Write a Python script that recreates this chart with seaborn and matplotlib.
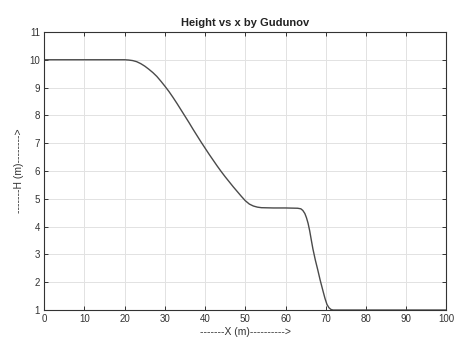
import matplotlib
matplotlib.use("Agg")
import matplotlib.pyplot as plt
import seaborn as sns
import pandas as pd

# Water depth profile along the channel (Godunov scheme result)
x_m = [0, 5, 10, 15, 20, 21, 22, 23, 24, 25, 26, 27, 28, 29, 30, 31, 32, 33,
       34, 35, 36, 37, 38, 39, 40, 41, 42, 43, 44, 45, 46, 47, 48, 49, 50,
       51, 52, 53, 54, 57, 60, 63, 63.8, 64.3, 64.8, 65.2, 65.6, 66.0, 66.4,
       66.8, 67.4, 68.0, 68.6, 69.3, 69.8, 70.3, 70.8, 71.3, 71.8, 73, 80,
       90, 100]
height_m = [10, 10, 10, 10, 10, 9.99, 9.97, 9.93, 9.86, 9.77, 9.66, 9.54,
            9.40, 9.23, 9.05, 8.86, 8.65, 8.43, 8.20, 7.97, 7.74, 7.50, 7.27,
            7.04, 6.82, 6.60, 6.39, 6.18, 5.98, 5.79, 5.61, 5.43, 5.26, 5.09,
            4.93, 4.81, 4.74, 4.70, 4.68, 4.67, 4.67, 4.66, 4.64, 4.58, 4.47,
            4.32, 4.12, 3.85, 3.52, 3.2, 2.8, 2.45, 2.08, 1.69, 1.42, 1.2,
            1.08, 1.02, 1.0, 1.0, 1.0, 1.0, 1.0]

x_ticks = [0, 10, 20, 30, 40, 50, 60, 70, 80, 90, 100]
y_ticks = [1, 2, 3, 4, 5, 6, 7, 8, 9, 10, 11]

df = pd.DataFrame({"x": x_m, "h": height_m})

sns.set_style("whitegrid")
plt.rcParams["font.family"] = ["Liberation Sans", "DejaVu Sans"]

fig = plt.figure(figsize=(4.56, 3.45), dpi=100)
ax = fig.add_axes([0.097, 0.1014, 0.882, 0.806])

sns.lineplot(data=df, x="x", y="h", ax=ax, color="#4a4a4a", linewidth=1.0)

ax.set_xlim(0, 100)
ax.set_ylim(1, 11)
ax.set_xticks(x_ticks)
ax.set_yticks(y_ticks)
ax.tick_params(axis="both", direction="in", length=3, width=0.7,
               labelsize=7, colors="#333333", top=True, right=True,
               bottom=True, left=True, pad=3)
ax.grid(True, color="#e2e2e2", linewidth=0.7)
for s in ax.spines.values():
    s.set_visible(True)
    s.set_color("#333333")
    s.set_linewidth(0.8)

ax.set_title("Height vs x by Gudunov", fontsize=8, fontweight="bold",
             color="#222222", pad=4)
ax.set_xlabel("-------X (m)---------->", fontsize=7.5, color="#333333",
              labelpad=2)
ax.set_ylabel("-------H (m)-------->", fontsize=7.5, color="#333333",
              labelpad=4)

fig.savefig("out.png", dpi=100, facecolor="white")
